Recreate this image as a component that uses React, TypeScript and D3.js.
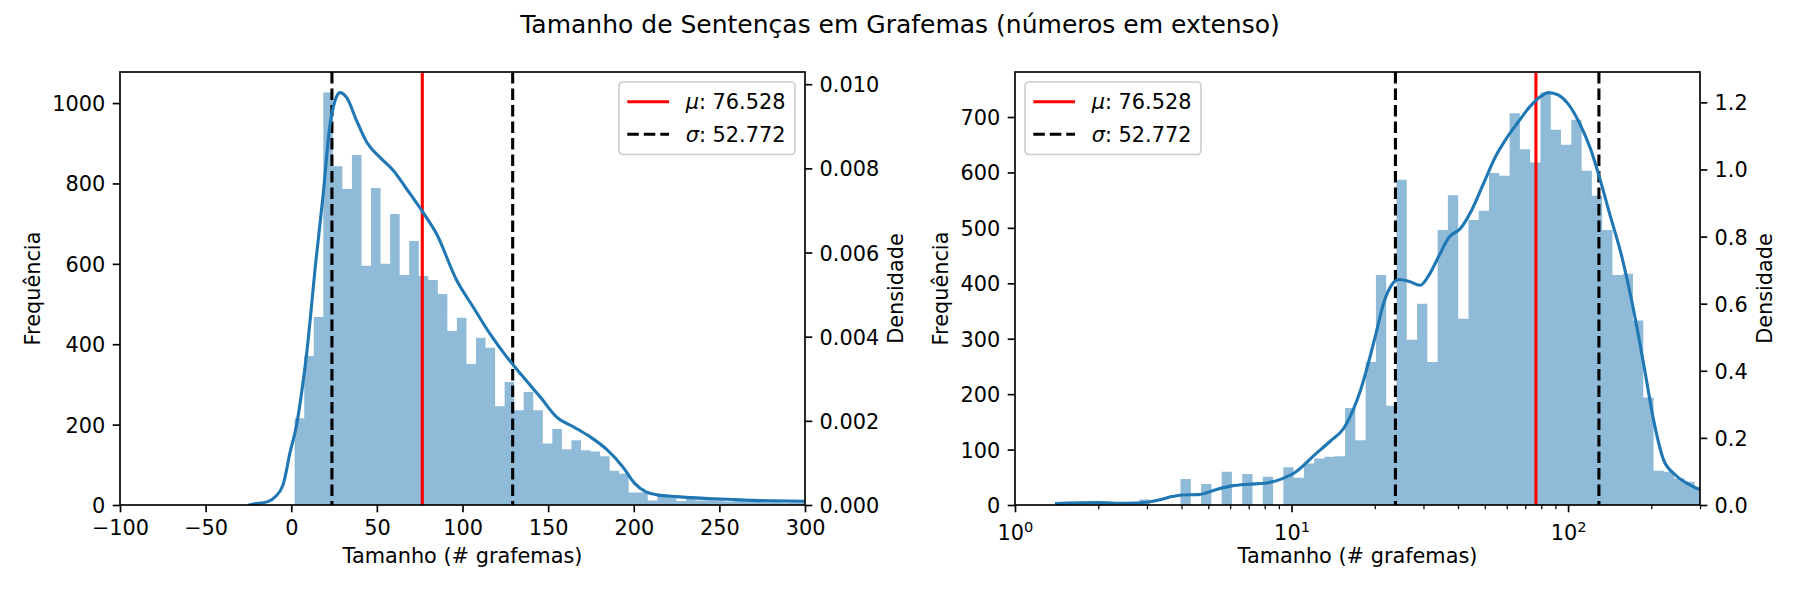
import * as d3 from "d3";
import { useEffect, useRef } from "react";

const title = "Tamanho de Sentenças em Grafemas (números em extenso)";
const xLabel = "Tamanho (# grafemas)";
const freqLabel = "Frequência";
const densLabel = "Densidade";

const meanValue = 76.528;
const stdValue = 52.772;

// linear-scale histogram (left panel)
const linBinStart = 2;
const linBinWidth = 5.573;
const linCounts = [
  216, 371, 468, 1026, 843, 786, 871, 595, 789, 600, 724, 572, 657, 570, 560,
  525, 433, 466, 351, 416, 391, 246, 306, 236, 281, 236, 153, 189, 139, 161,
  136, 133, 121, 85, 78, 31, 31, 11, 23, 23, 10, 18, 11, 18, 12, 9, 11, 8, 9,
  7, 8, 6, 7, 6,
];

// log-scale histogram (right panel), bins equally spaced in decades
const logBinStart = 2;
const logBinDecades = 0.03719;
const logCounts = [
  4, 0, 0, 0, 10, 0, 0, 0, 47, 0, 38, 0, 60, 0, 56, 0, 51, 0, 68, 49, 75, 84,
  87, 88, 175, 117, 258, 415, 179, 587, 298, 363, 258, 496, 559, 336, 514, 531,
  599, 594, 707, 642, 618, 744, 677, 650, 695, 603, 558, 496, 415, 417, 333,
  194, 62, 60, 48, 42, 33,
];

// kde curves: [tamanho, densidade]
const linKde: [number, number][] = [
  [-25, 0], [-22.6, 0.00002], [-13.6, 0.00008], [-9.2, 0.0002], [-4.7, 0.00049],
  [-0.7, 0.00125], [3.1, 0.0019], [6.5, 0.0028], [9.0, 0.0036], [14.4, 0.0058],
  [18.7, 0.0074], [22.2, 0.0089], [25.5, 0.0096], [28.5, 0.0098], [32.4, 0.00968],
  [38.2, 0.00913], [44.1, 0.00862], [51.8, 0.00826], [59.6, 0.00795], [67.4, 0.00751],
  [76.2, 0.007], [84.9, 0.00644], [96.6, 0.00534], [106.3, 0.0047], [116, 0.00407],
  [125.8, 0.00352], [135.5, 0.00304], [145.3, 0.00257], [155, 0.00209], [164.7, 0.00186],
  [174.5, 0.00162], [184.2, 0.00132], [193.7, 0.0009], [200.4, 0.00052], [207.1, 0.00031],
  [213.8, 0.00024], [225, 0.0002], [236.2, 0.00017], [247.3, 0.00015], [258.5, 0.00013],
  [269.7, 0.00011], [280.9, 0.0001], [300, 0.00009],
];

const logKde: [number, number][] = [
  [1.395, 0.004], [2.0, 0.007], [2.5, 0.005], [3.04, 0.009], [3.4, 0.017],
  [3.69, 0.025], [4.01, 0.03], [4.61, 0.031], [5.29, 0.045], [6.08, 0.057],
  [6.99, 0.062], [8.03, 0.065], [9.22, 0.078], [10.3, 0.097], [12.15, 0.15],
  [13.8, 0.19], [15.43, 0.228], [16.72, 0.284], [17.81, 0.345], [18.99, 0.425],
  [20.23, 0.513], [21.58, 0.604], [23.0, 0.655], [24.5, 0.672], [26.5, 0.667],
  [29.2, 0.655], [31.6, 0.689], [34.3, 0.746], [37.1, 0.798], [40.8, 0.824],
  [44.9, 0.88], [49.4, 0.957], [54.4, 1.035], [59.8, 1.092], [65.8, 1.14],
  [72.4, 1.185], [78.5, 1.214], [85.0, 1.229], [92.0, 1.222], [99.7, 1.197],
  [109.7, 1.14], [120.7, 1.06], [130.7, 0.969], [141.6, 0.866], [155.8, 0.746],
  [171.4, 0.593], [188.6, 0.41], [204.2, 0.25], [221.2, 0.136], [243.2, 0.091],
  [267.7, 0.066], [301, 0.045],
];

const linXTicks = [-100, -50, 0, 50, 100, 150, 200, 250, 300];
const linFreqTicks = [0, 200, 400, 600, 800, 1000];
const linDensTicks = [0, 0.002, 0.004, 0.006, 0.008, 0.01];
const logMajorTicks = [1, 10, 100];
const logMinorTicks = [2, 3, 4, 5, 6, 7, 8, 9, 20, 30, 40, 50, 60, 70, 80, 90, 200, 300];
const logFreqTicks = [0, 100, 200, 300, 400, 500, 600, 700];
const logDensTicks = [0, 0.2, 0.4, 0.6, 0.8, 1.0, 1.2];

const legendEntries = [
  { symbol: "μ", value: meanValue, color: "#ff0000", dash: null as string | null },
  { symbol: "σ", value: stdValue, color: "#000000", dash: "11.5,5" },
];

const WIDTH = 1800;
const HEIGHT = 600;
const TOP = 72;
const BOTTOM = 505;
const FONT = "'DejaVu Sans', sans-serif";
const FS = 20.83; // 10pt at 150 dpi
const BLUE = "#1f77b4";

type Bin = { x0: number; x1: number; count: number };

const linBins: Bin[] = linCounts.map((count, i) => ({
  x0: linBinStart + i * linBinWidth,
  x1: linBinStart + (i + 1) * linBinWidth,
  count,
}));

const logBins: Bin[] = logCounts.map((count, i) => ({
  x0: logBinStart * Math.pow(10, i * logBinDecades),
  x1: logBinStart * Math.pow(10, (i + 1) * logBinDecades),
  count,
}));

function styleAxis(g: any) {
  g.select(".domain").remove();
  g.selectAll(".tick line").attr("stroke", "#000").attr("stroke-width", 1.67);
  g.selectAll(".tick text")
    .attr("fill", "#000")
    .attr("font-size", FS)
    .attr("font-family", FONT);
  g.attr("font-size", FS).attr("font-family", FONT);
}

function drawPanel(svg: any, p: any) {
  const x = p.x;
  const [left, right] = x.range();
  const yF = d3
    .scaleLinear()
    .domain([0, (d3.max(p.bins as Bin[], (b) => b.count) || 1) * 1.05])
    .range([BOTTOM, TOP]);
  const yD = d3
    .scaleLinear()
    .domain([0, (d3.max(p.kde as [number, number][], (d) => d[1]) || 1) * 1.05])
    .range([BOTTOM, TOP]);

  svg
    .append("clipPath")
    .attr("id", p.id)
    .append("rect")
    .attr("x", left)
    .attr("y", TOP)
    .attr("width", right - left)
    .attr("height", BOTTOM - TOP);

  const plot = svg.append("g").attr("clip-path", `url(#${p.id})`);

  // histogram bars, one path so neighbouring bars leave no seams
  const bars = d3.path();
  (p.bins as Bin[])
    .filter((b) => b.count > 0)
    .forEach((b) => {
      bars.rect(x(b.x0), yF(b.count), x(b.x1) - x(b.x0), BOTTOM - yF(b.count));
    });
  plot
    .append("path")
    .attr("d", bars.toString())
    .attr("fill", BLUE)
    .attr("fill-opacity", 0.5);

  // mean and mean +/- std
  const vlines = [
    { v: meanValue, e: legendEntries[0] },
    { v: meanValue - stdValue, e: legendEntries[1] },
    { v: meanValue + stdValue, e: legendEntries[1] },
  ];
  vlines.forEach(({ v, e }) => {
    plot
      .append("line")
      .attr("x1", x(v))
      .attr("x2", x(v))
      .attr("y1", TOP)
      .attr("y2", BOTTOM)
      .attr("stroke", e.color)
      .attr("stroke-width", 3.1)
      .attr("stroke-dasharray", e.dash);
  });

  // kde on twin axis
  const line = d3
    .line<[number, number]>()
    .x((d) => x(d[0]))
    .y((d) => yD(d[1]))
    .curve(d3.curveMonotoneX);
  plot
    .append("path")
    .datum(p.kde)
    .attr("fill", "none")
    .attr("stroke", BLUE)
    .attr("stroke-width", 3.1)
    .attr("stroke-linejoin", "round")
    .attr("d", line);

  // bottom axis
  if (p.isLog) {
    const gx = svg
      .append("g")
      .attr("transform", `translate(0,${BOTTOM})`)
      .call(
        d3
          .axisBottom(x)
          .tickValues(p.xMajor)
          .tickSize(7.3)
          .tickPadding(12.5)
          .tickFormat(() => ""),
      );
    styleAxis(gx);
    gx.selectAll(".tick text").each(function (this: any, d: any) {
      const t = d3.select(this);
      t.text(null);
      t.append("tspan").text("10");
      t.append("tspan")
        .attr("dy", -7.8)
        .attr("font-size", 14.6)
        .text(String(Math.round(Math.log10(d))));
    });
    const gm = svg
      .append("g")
      .attr("transform", `translate(0,${BOTTOM})`)
      .call(
        d3
          .axisBottom(x)
          .tickValues(p.xMinor)
          .tickSize(4.2)
          .tickFormat(() => ""),
      );
    styleAxis(gm);
    gm.selectAll(".tick line").attr("stroke-width", 1.25);
  } else {
    const gx = svg
      .append("g")
      .attr("transform", `translate(0,${BOTTOM})`)
      .call(
        d3
          .axisBottom(x)
          .tickValues(p.xMajor)
          .tickSize(7.3)
          .tickPadding(7.9)
          .tickFormat(d3.format("d") as any),
      );
    styleAxis(gx);
  }

  // left frequency axis
  const gy = svg
    .append("g")
    .attr("transform", `translate(${left},0)`)
    .call(
      d3
        .axisLeft(yF)
        .tickValues(p.freqTicks)
        .tickSize(7.3)
        .tickPadding(7.5)
        .tickFormat(d3.format("d") as any),
    );
  styleAxis(gy);
  gy.selectAll(".tick text").attr("dy", "0.36em");

  // right density axis
  const gd = svg
    .append("g")
    .attr("transform", `translate(${right},0)`)
    .call(
      d3
        .axisRight(yD)
        .tickValues(p.densTicks)
        .tickSize(7.3)
        .tickPadding(7.3)
        .tickFormat(d3.format(p.densFmt) as any),
    );
  styleAxis(gd);
  gd.selectAll(".tick text").attr("dy", "0.36em");

  // spines
  svg
    .append("rect")
    .attr("x", left)
    .attr("y", TOP)
    .attr("width", right - left)
    .attr("height", BOTTOM - TOP)
    .attr("fill", "none")
    .attr("stroke", "#000")
    .attr("stroke-width", 1.67);

  // axis labels
  const labels = svg.append("g").attr("font-family", FONT).attr("font-size", FS);
  labels
    .append("text")
    .attr("x", (left + right) / 2)
    .attr("y", 563)
    .attr("text-anchor", "middle")
    .text(xLabel);
  const cy = (TOP + BOTTOM) / 2;
  labels
    .append("text")
    .attr("transform", `translate(${p.freqLabelX},${cy}) rotate(-90)`)
    .attr("text-anchor", "middle")
    .text(freqLabel);
  labels
    .append("text")
    .attr("transform", `translate(${p.densLabelX},${cy}) rotate(-90)`)
    .attr("text-anchor", "middle")
    .text(densLabel);

  // legend
  const lg = svg
    .append("g")
    .attr("transform", `translate(${p.legendLeft},${TOP + 10})`)
    .attr("font-family", FONT)
    .attr("font-size", FS);
  lg.append("rect")
    .attr("width", 176)
    .attr("height", 72.5)
    .attr("rx", 4)
    .attr("fill", "#fff")
    .attr("fill-opacity", 0.8)
    .attr("stroke", "#cccccc")
    .attr("stroke-width", 1.6);
  legendEntries.forEach((e, i) => {
    const ry = 19.8 + i * 32.5;
    lg.append("line")
      .attr("x1", 8.3)
      .attr("x2", 50)
      .attr("y1", ry)
      .attr("y2", ry)
      .attr("stroke", e.color)
      .attr("stroke-width", 3.1)
      .attr("stroke-dasharray", e.dash);
    const t = lg.append("text").attr("x", 66.7).attr("y", ry + 7.6);
    t.append("tspan").attr("font-style", "italic").text(e.symbol);
    t.append("tspan").text(`: ${e.value.toFixed(3)}`);
  });
}

export default function App() {
  const svgRef = useRef<SVGSVGElement>(null);

  useEffect(() => {
    if (!svgRef.current) return;
    const svg = d3.select(svgRef.current);
    svg.selectAll("*").remove();

    svg
      .append("text")
      .attr("x", WIDTH / 2)
      .attr("y", 33)
      .attr("text-anchor", "middle")
      .attr("font-family", FONT)
      .attr("font-size", 25)
      .text(title);

    const xLin = d3.scaleLinear().domain([-100, 300]).range([120, 805]);
    const xLog = d3.scaleLog().domain([1, 300]).range([1015, 1700]);

    drawPanel(svg, {
      id: "clip-lin",
      x: xLin,
      bins: linBins,
      kde: linKde,
      isLog: false,
      xMajor: linXTicks,
      freqTicks: linFreqTicks,
      densTicks: linDensTicks,
      densFmt: ".3f",
      legendLeft: 619,
      freqLabelX: 40,
      densLabelX: 903,
    });

    drawPanel(svg, {
      id: "clip-log",
      x: xLog,
      bins: logBins,
      kde: logKde,
      isLog: true,
      xMajor: logMajorTicks,
      xMinor: logMinorTicks,
      freqTicks: logFreqTicks,
      densTicks: logDensTicks,
      densFmt: ".1f",
      legendLeft: 1025,
      freqLabelX: 948,
      densLabelX: 1772,
    });
  }, []);

  return (
    <div style={{ position: "absolute", left: 0, top: 0 }}>
      <svg
        ref={svgRef}
        width={WIDTH}
        height={HEIGHT}
        style={{ display: "block", background: "#fff" }}
      />
    </div>
  );
}
